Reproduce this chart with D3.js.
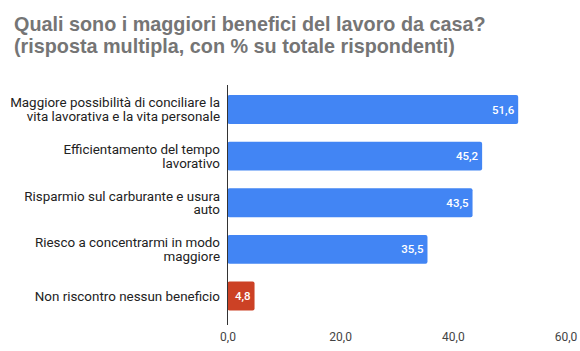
<!DOCTYPE html>
<html lang="it">
	<head>
		<meta charset="utf-8">
		<title>Benefici del lavoro da casa</title>
		<script src="https://cdn.jsdelivr.net/npm/d3@7"></script>
		<style>
			body { margin: 0; background: #fff; }
			.title { font-family: "Liberation Sans", Arial, sans-serif; font-weight: bold; font-size: 19.8px; fill: #757575; }
			.catLabel { font-family: Roboto, sans-serif; font-size: 13.4px; fill: #222; }
			.valLabel { font-family: Roboto, sans-serif; font-size: 11.5px; font-weight: 500; fill: #fff; }
			.xAxis text { font-family: Roboto, sans-serif; font-size: 12px; fill: #444; }
		</style>
	</head>
	<body>
		<div class="chart"></div>
		<script>
			// dati
			var categories = [
				"Maggiore possibilità di conciliare la\nvita lavorativa e la vita personale",
				"Efficientamento del tempo\nlavorativo",
				"Risparmio sul carburante e usura\nauto",
				"Riesco a concentrarmi in modo\nmaggiore",
				"Non riscontro nessun beneficio"
			];
			var values = [51.6, 45.2, 43.5, 35.5, 4.8];
			var xTicks = [0, 20, 40, 60];
			var titleLines = [
				"Quali sono i maggiori benefici del lavoro da casa?",
				"(risposta multipla, con % su totale rispondenti)"
			];

			var w = 580, h = 351;

			var svg = d3.select("div.chart")
				.append("svg")
				.attr("width", w)
				.attr("height", h);

			var it = d3.formatLocale({decimal: ",", thousands: ".", grouping: [3], currency: ["€", ""]});
			var fmt = it.format(".1f");

			var x = d3.scaleLinear()
				.domain([0, 60])
				.range([227.5, 565.5]);

			var y = d3.scaleBand()
				.domain(categories)
				.range([86, 319.5])
				.paddingInner(0.38)
				.paddingOuter(0.195);

			var color = d3.scaleOrdinal()
				.domain(categories)
				.range(["#4285f4", "#4285f4", "#4285f4", "#4285f4", "#cc4125"]);

			// titolo su due righe
			svg.append("g")
				.selectAll("text")
				.data(titleLines)
				.enter()
				.append("text")
				.attr("class", "title")
				.attr("x", 14)
				.attr("y", (d, i) => 31 + i * 22.3)
				.text(d => d);

			// barre
			svg.append("g")
				.selectAll("rect")
				.data(values)
				.enter()
				.append("rect")
				.attr("x", x(0))
				.attr("y", (d, i) => y(categories[i]))
				.attr("width", d => x(d) - x(0))
				.attr("height", y.bandwidth())
				.attr("rx", 2)
				.attr("fill", (d, i) => color(categories[i]));

			// valori
			svg.append("g")
				.selectAll("text")
				.data(values)
				.enter()
				.append("text")
				.attr("class", "valLabel")
				.attr("x", d => x(d) - 4)
				.attr("y", (d, i) => y(categories[i]) + y.bandwidth() / 2)
				.attr("dy", "0.35em")
				.attr("text-anchor", "end")
				.text(d => fmt(d));

			// etichette categorie (su piu' righe)
			var lab = svg.append("g")
				.selectAll("text")
				.data(categories)
				.enter()
				.append("text")
				.attr("class", "catLabel")
				.attr("text-anchor", "end")
				.attr("transform", d => "translate(220," + (y(d) + y.bandwidth() / 2) + ")");

			lab.each(function(d) {
				var lines = d.split("\n");
				var lh = 13.5;
				var off = -(lines.length - 1) * lh / 2;
				d3.select(this).selectAll("tspan")
					.data(lines)
					.enter()
					.append("tspan")
					.attr("x", 0)
					.attr("y", (l, i) => off + i * lh)
					.attr("dy", "0.35em")
					.text(l => l);
			});

			// linea dell'asse verticale
			svg.append("line")
				.attr("x1", x(0))
				.attr("x2", x(0))
				.attr("y1", y.range()[0] - 1)
				.attr("y2", y.range()[1] + 5.5)
				.attr("stroke", "#333")
				.attr("stroke-width", 1);

			// asse x
			var xAxis = d3.axisBottom(x)
				.tickValues(xTicks)
				.tickSize(0)
				.tickPadding(0)
				.tickFormat(d => fmt(d));

			svg.append("g")
				.attr("class", "xAxis")
				.attr("transform", "translate(0,332)")
				.call(xAxis)
				.select(".domain")
				.remove();
		</script>
	</body>
</html>
